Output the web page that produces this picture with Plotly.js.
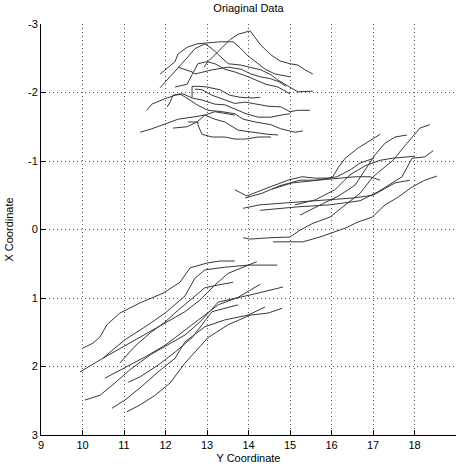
<!DOCTYPE html>
<html>
<head>
<meta charset="utf-8">
<script src="https://cdn.plot.ly/plotly-3.0.1.min.js"></script>
<style>html,body{margin:0;padding:0;background:#fff;}#chart{width:461px;height:467px;}</style>
</head>
<body>
<div id="chart"></div>
<script>
// ---- Data (Y Coordinate on horizontal axis, X Coordinate on vertical axis) ----
// Upper cluster
const t1x = [12.93,13.02,13.19,13.36,13.55,13.75,14.04,14.11,14.30,14.54,14.76,15.00,15.19,15.36,15.55];
const t1y = [-2.37,-2.45,-2.55,-2.65,-2.77,-2.85,-2.90,-2.84,-2.69,-2.55,-2.46,-2.42,-2.40,-2.33,-2.27];
const t2x = [11.87,12.23,12.30,12.52,12.76,13.00,13.31,13.63,13.80,13.96,14.16,14.40,14.64,15.00];
const t2y = [-2.27,-2.45,-2.56,-2.66,-2.71,-2.72,-2.74,-2.74,-2.65,-2.55,-2.45,-2.34,-2.27,-2.23];
const t3x = [11.87,12.16,12.35,12.54,12.71,12.95,13.12,13.27,13.51,13.82,14.06,14.30,14.54,14.71,14.88,15.00,15.19,15.55];
const t3y = [-2.07,-2.26,-2.39,-2.52,-2.64,-2.71,-2.64,-2.55,-2.42,-2.40,-2.37,-2.33,-2.26,-2.18,-2.12,-2.08,-2.01,-2.02];
const t4x = [12.23,12.52,12.64,12.71,12.78,13.00,13.19,13.43,13.67,13.99,14.23,14.42,14.71,15.00];
const t4y = [-2.08,-2.12,-2.26,-2.33,-2.42,-2.45,-2.42,-2.34,-2.30,-2.23,-2.17,-2.12,-2.08,-1.98];
const t5x = [12.30,12.47,12.64,12.71,13.12,13.51,13.82,14.06,14.28,14.54,14.76,14.90];
const t5y = [-2.37,-2.33,-2.30,-2.27,-2.33,-2.37,-2.34,-2.27,-2.23,-2.20,-2.15,-2.09];
const t6x = [12.64,12.64,12.83,13.00,13.31,13.55,13.80,14.11,14.28];
const t6y = [-1.93,-2.09,-2.09,-2.08,-2.04,-1.96,-1.93,-1.92,-1.93];
const t7x = [11.55,11.67,11.99,12.23,12.42,12.64,12.88,13.19,13.43,13.67,13.94,14.23,14.54,14.78,15.00];
const t7y = [-1.74,-1.83,-1.91,-1.96,-1.98,-1.92,-1.89,-1.83,-1.82,-1.76,-1.69,-1.64,-1.64,-1.67,-1.69];
const t8x = [12.71,12.88,13.12,13.36,13.67,13.92,14.16,14.47,14.78,15.00,15.19,15.48];
const t8y = [-2.05,-2.04,-1.96,-1.91,-1.84,-1.86,-1.83,-1.80,-1.79,-1.72,-1.74,-1.74];
const t9x = [12.04,12.11,12.18,12.35,12.59,12.76,13.02,13.36,13.67,13.87,14.16,14.54,14.78,15.12,15.31];
const t9y = [-1.79,-1.86,-1.96,-1.98,-1.89,-1.82,-1.74,-1.72,-1.69,-1.61,-1.57,-1.53,-1.47,-1.42,-1.44];
const t10x = [11.39,11.67,11.99,12.30,12.64,12.95,13.19,13.43,13.75,14.06,14.47,14.71];
const t10y = [-1.42,-1.47,-1.54,-1.61,-1.64,-1.67,-1.61,-1.57,-1.45,-1.42,-1.39,-1.38];
const t11x = [12.18,12.52,12.76,12.95,13.19,13.43,13.67];
const t11y = [-1.48,-1.50,-1.57,-1.67,-1.72,-1.69,-1.67];
const t12x = [12.54,12.78,12.78,12.88,13.12,13.43,13.67,13.92,14.23,14.54];
const t12y = [-1.57,-1.57,-1.53,-1.39,-1.35,-1.35,-1.32,-1.32,-1.35,-1.35];
// Right cluster
const r1x = [13.67,13.96,14.47,14.95,15.29,15.60,16.01,16.16,16.33,16.64,16.88,17.17];
const r1y = [-0.58,-0.49,-0.61,-0.72,-0.77,-0.75,-0.75,-0.90,-1.04,-1.19,-1.28,-1.39];
const r2x = [13.92,14.33,14.76,15.24,15.67,16.13,16.57,16.93,17.17];
const r2y = [-0.46,-0.53,-0.64,-0.72,-0.72,-0.75,-0.77,-0.77,-0.72];
const r3x = [14.57,15.05,15.53,16.13,16.45,16.69,17.02];
const r3y = [-0.59,-0.68,-0.71,-0.77,-0.87,-0.97,-1.04];
const r4x = [13.87,14.28,14.93,15.72,16.52,17.00,17.53,17.89];
const r4y = [-0.31,-0.36,-0.39,-0.42,-0.46,-0.50,-0.68,-0.72];
const r5x = [14.28,14.76,15.17,15.96,16.69,17.12,17.70,17.94,18.25,18.45];
const r5y = [-0.28,-0.31,-0.33,-0.36,-0.42,-0.55,-0.77,-1.04,-1.06,-1.15];
const r6x = [13.87,14.04,14.52,15.00,15.24,15.55,15.96,16.28,16.69,17.00,17.48,17.82,18.13,18.37];
const r6y = [0.12,0.14,0.12,0.11,0.01,-0.09,-0.18,-0.33,-0.53,-0.77,-1.01,-1.26,-1.48,-1.53];
const r7x = [14.59,15.31,15.72,16.33,16.64,16.98,17.29,17.60,17.94,18.25,18.54];
const r7y = [0.18,0.18,0.11,-0.02,-0.11,-0.18,-0.36,-0.47,-0.62,-0.72,-0.78];
const r8x = [15.12,15.60,16.08,16.45,16.81,17.17,17.46,17.77,18.01];
const r8y = [-0.36,-0.43,-0.58,-0.80,-0.93,-1.01,-1.04,-1.06,-1.07];
const r9x = [15.24,15.72,16.20,16.57,16.81,17.05,17.29,17.53,17.82];
const r9y = [-0.21,-0.36,-0.50,-0.65,-0.87,-1.09,-1.26,-1.35,-1.38];
// Lower-left cluster
const b1x = [10.01,10.25,10.42,10.59,10.90,11.39,11.94,12.35,12.59,13.00,13.31,13.67];
const b1y = [1.73,1.66,1.57,1.39,1.22,1.07,0.93,0.77,0.56,0.49,0.46,0.46];
const b2x = [9.94,10.49,11.02,11.51,11.99,12.47,12.71,12.95,13.43,13.99,14.69];
const b2y = [2.08,1.88,1.61,1.42,1.22,0.97,0.71,0.59,0.55,0.52,0.52];
const b3x = [10.49,11.02,11.58,12.06,12.47,12.83,13.19,13.51,14.20];
const b3y = [1.88,1.70,1.51,1.35,1.20,1.03,0.81,0.64,0.47];
const b4x = [10.90,11.27,11.63,11.99,12.30,12.59,12.95,13.27,13.63];
const b4y = [1.95,1.70,1.51,1.35,1.18,1.03,0.85,0.81,0.77];
const b5x = [10.54,11.02,11.51,11.99,12.47,12.88,13.27,13.75,14.28];
const b5y = [2.17,2.02,1.86,1.69,1.47,1.29,1.10,0.99,0.80];
const b6x = [10.06,10.42,10.78,11.14,11.63,12.11,12.47,12.83,13.27,14.08,14.83];
const b6y = [2.49,2.42,2.24,2.05,1.83,1.66,1.54,1.35,1.06,0.95,0.84];
const b7x = [11.10,11.39,11.82,12.23,12.64,13.12,13.75];
const b7y = [2.23,2.15,1.98,1.79,1.58,1.20,1.10];
const b8x = [10.71,11.02,11.39,11.82,12.23,12.47,12.95,13.43,13.99,14.40];
const b8y = [2.61,2.49,2.31,2.08,1.88,1.64,1.42,1.32,1.25,1.13];
const b9x = [11.07,11.39,11.75,12.11,12.47,13.02,13.51,14.04,14.47,14.81];
const b9y = [2.66,2.56,2.42,2.24,1.95,1.58,1.39,1.25,1.22,1.15];

const xTickVals = [9,10,11,12,13,14,15,16,17,18,19];
const xTickText = ['9','10','11','12','13','14','15','16','17','18','19'];
const yTickVals = [-3,-2,-1,0,1,2,3];
const yTickText = ['-3','-2','-1','0','1','2','3'];

const series = [
  [t1x,t1y],[t2x,t2y],[t3x,t3y],[t4x,t4y],[t5x,t5y],[t6x,t6y],[t7x,t7y],[t8x,t8y],[t9x,t9y],[t10x,t10y],[t11x,t11y],[t12x,t12y],
  [r1x,r1y],[r2x,r2y],[r3x,r3y],[r4x,r4y],[r5x,r5y],[r6x,r6y],[r7x,r7y],[r8x,r8y],[r9x,r9y],
  [b1x,b1y],[b2x,b2y],[b3x,b3y],[b4x,b4y],[b5x,b5y],[b6x,b6y],[b7x,b7y],[b8x,b8y],[b9x,b9y]
];

const traces = series.map(s => ({
  x: s[0], y: s[1], type: 'scatter', mode: 'lines',
  line: {color: '#383838', width: 1}, showlegend: false, hoverinfo: 'skip'
}));

const fontFam = 'Liberation Sans, Arial, Helvetica, sans-serif';
const layout = {
  width: 461, height: 467,
  margin: {l: 41, r: 5, t: 24, b: 32, pad: 0},
  paper_bgcolor: '#ffffff', plot_bgcolor: '#ffffff',
  font: {family: fontFam, size: 11, color: '#000'},
  title: {text: 'Oriaginal Data', font: {family: fontFam, size: 11, color: '#000'},
          x: 0.5, xref: 'paper', y: 1 - 8/467, yref: 'container', yanchor: 'middle'},
  xaxis: {
    range: [9, 19], tickvals: xTickVals, ticktext: xTickText,
    showgrid: true, gridcolor: '#555', griddash: '1px,3px', gridwidth: 1,
    zeroline: false, showline: true, linecolor: '#000', linewidth: 1,
    ticks: 'inside', ticklen: 5, tickcolor: '#000',
    tickfont: {family: fontFam, size: 11, color: '#000'},
    title: {text: 'Y Coordinate', font: {family: fontFam, size: 11, color: '#000'}, standoff: 4},
    automargin: false
  },
  yaxis: {
    range: [3, -3], tickvals: yTickVals, ticktext: yTickText,
    showgrid: true, gridcolor: '#555', griddash: '1px,3px', gridwidth: 1,
    zeroline: false, showline: true, linecolor: '#000', linewidth: 1,
    ticks: 'inside', ticklen: 5, tickcolor: '#000',
    tickfont: {family: fontFam, size: 11, color: '#000'},
    title: {text: 'X Coordinate', font: {family: fontFam, size: 11, color: '#000'}, standoff: 12},
    automargin: false
  }
};

Plotly.newPlot('chart', traces, layout, {staticPlot: true, displayModeBar: false});
</script>
</body>
</html>
